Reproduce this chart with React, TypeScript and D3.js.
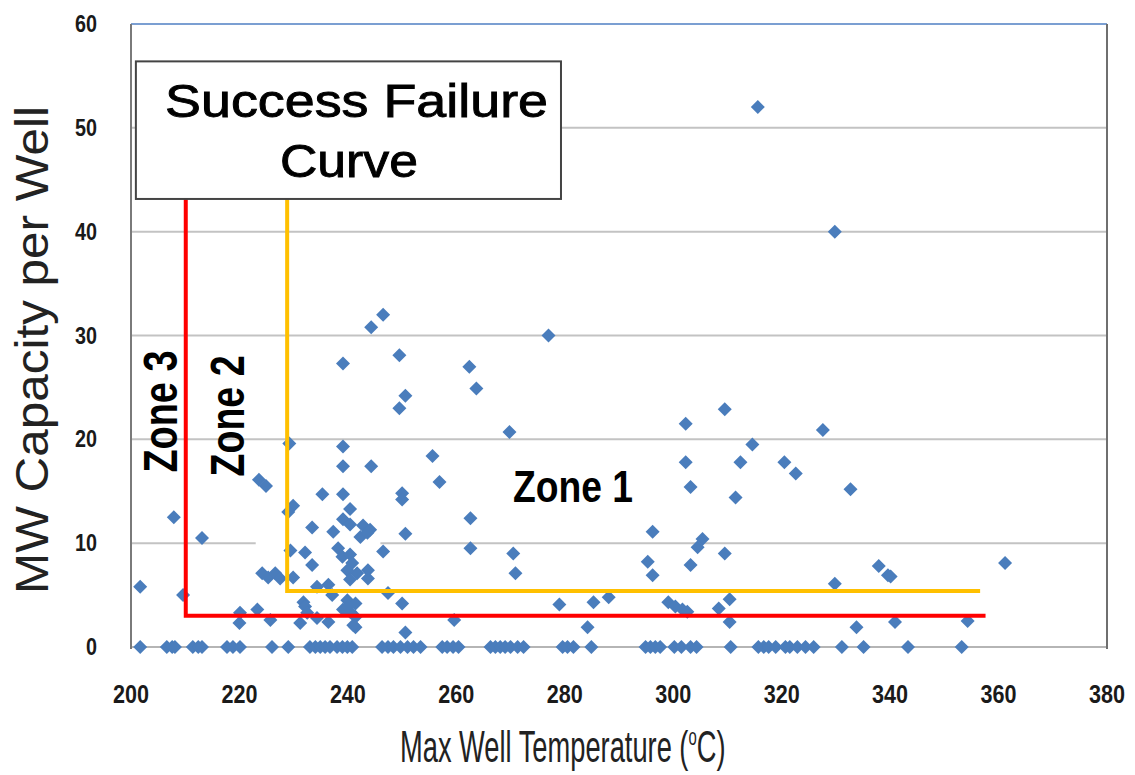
import React from "react";
import * as d3 from "d3";

// axis ticks
const xTicks = [200, 220, 240, 260, 280, 300, 320, 340, 360, 380];
const yTicks = [0, 10, 20, 30, 40, 50, 60];

// wells with capacity > 0 : [max temperature (C), MW per well]
const producingWells: [number, number][] = [
  [315.6, 52.0], [329.8, 40.0], [277.0, 30.0],
  [246.5, 32.0], [244.3, 30.8], [239.1, 27.3], [249.5, 28.1], [250.6, 24.2], [249.5, 23.0],
  [262.4, 27.0], [263.7, 24.9], [269.8, 20.7], [255.6, 18.4], [256.9, 15.9],
  [229.2, 19.6], [239.1, 19.3], [239.1, 17.4], [244.3, 17.4],
  [223.6, 16.1], [224.9, 15.5],
  [250.0, 14.8], [250.0, 14.2], [262.6, 12.4], [250.6, 10.9], [262.6, 9.5], [270.5, 9.0], [270.9, 7.1],
  [250.0, 4.2], [279.0, 4.1], [285.3, 4.3], [288.1, 4.8], [259.6, 2.6], [250.6, 1.4], [284.2, 1.9],
  [309.5, 22.9], [302.3, 21.5], [327.6, 20.9], [314.6, 19.5], [302.3, 17.8], [312.4, 17.8],
  [320.5, 17.8], [322.6, 16.7], [303.2, 15.4], [332.7, 15.2], [311.5, 14.4], [296.2, 11.1],
  [305.4, 10.4], [304.5, 9.6], [309.5, 9.0], [295.3, 8.2], [303.2, 7.9], [296.2, 6.9],
  [337.9, 7.8], [339.6, 6.9], [340.1, 6.8], [361.2, 8.1], [329.8, 6.1], [310.4, 4.6],
  [299.1, 4.3], [300.4, 3.9], [301.7, 3.6], [302.6, 3.4], [308.4, 3.7], [310.4, 2.4],
  [333.8, 1.9], [340.9, 2.4], [354.3, 2.5],
  [235.3, 14.7], [239.1, 14.7], [240.4, 13.3], [239.1, 12.3], [240.4, 11.8], [233.4, 11.5],
  [237.3, 11.1], [242.8, 11.7], [244.1, 11.3], [242.3, 10.6], [243.6, 11.0],
  [232.1, 9.1], [233.4, 7.9], [238.2, 9.5], [239.0, 8.7], [240.4, 8.9], [240.8, 8.1],
  [241.7, 7.1], [239.9, 7.4], [240.4, 6.5], [243.7, 6.6], [243.7, 7.4], [246.5, 9.2],
  [234.3, 5.8], [236.4, 6.0], [237.1, 5.0], [231.8, 4.3], [239.9, 4.5], [241.4, 4.2],
  [239.1, 3.6], [240.4, 3.4], [241.4, 1.9], [247.4, 5.2], [241.4, 2.9], [240.1, 3.9],
  [234.3, 2.8], [236.4, 2.4],
  [229.9, 13.6], [229.0, 13.0], [229.4, 9.3], [224.2, 7.1], [225.3, 6.7], [226.6, 7.1],
  [227.5, 6.6], [229.9, 6.7],
  [232.1, 3.9], [232.5, 3.3], [231.2, 2.3], [223.3, 3.6], [220.1, 3.3], [225.7, 2.6],
  [220.0, 2.3], [241.0, 2.1],
  [201.7, 5.8], [207.9, 12.5], [209.6, 5.0], [213.1, 10.5],
];

// wells with zero capacity (temperature only)
const dryWellTemps: number[] = [
  201.7, 206.6, 207.6, 208.1, 211.4, 212.4, 213.1, 217.7, 218.8, 220.1, 226.0, 229.0,
  233.0, 234.0, 234.9, 235.8, 236.7, 238.0, 239.0, 239.9, 240.8, 246.3, 247.4, 248.4,
  249.7, 251.0, 252.1, 253.4, 257.4, 258.3, 259.4, 260.4, 266.3, 267.2, 268.1, 269.0,
  270.0, 271.3, 272.4, 279.6, 280.5, 281.6, 284.9, 294.9, 295.8, 296.7, 297.6, 300.2,
  301.5, 303.2, 304.3, 310.6, 315.7, 316.7, 317.6, 318.9, 320.7, 321.5, 322.9, 324.4,
  325.9, 331.1, 335.1, 343.3, 353.2,
];

// success / failure curve corners (temp, MW)
const zone3Curve: [number, number][] = [[210.1, 43.2], [210.1, 3.0], [357.6, 3.0]];
const zone2Curve: [number, number][] = [[228.8, 43.2], [228.8, 5.4], [356.6, 5.4]];

const W = 1135;
const H = 775;
const font = "'Liberation Sans', Arial, sans-serif";

export default function App() {
  const x = d3.scaleLinear().domain([200, 380]).range([131, 1107]);
  const y = d3.scaleLinear().domain([0, 60]).range([647, 24]);

  const diamond = d3.symbol().type(d3.symbolSquare).size(98)();
  const line = d3.line<[number, number]>().x(d => x(d[0])).y(d => y(d[1]));

  const points: [number, number][] = [
    ...dryWellTemps.map(t => [t, 0] as [number, number]),
    ...producingWells,
  ];

  return (
    <svg width={W} height={H} style={{ position: "absolute", left: 0, top: 0, background: "#fff" }}>
      {/* gridlines */}
      {yTicks.filter(v => v > 0 && v < 60).map(v => (
        <line key={v} x1={x(200)} x2={x(380)} y1={y(v)} y2={y(v)} stroke="#c3c3c3" strokeWidth={2} />
      ))}
      <line x1={x(200)} x2={x(380)} y1={y(0)} y2={y(0)} stroke="#b5b5b5" strokeWidth={2} />
      <line x1={x(200)} x2={x(380)} y1={y(60)} y2={y(60)} stroke="#7b9fd2" strokeWidth={2} />
      {/* image clean-up patch over the 10 MW gridline */}
      <rect x={x(223)} y={y(10) - 3} width={x(246) - x(223)} height={6} fill="#fff" />
      {/* axes */}
      <line x1={x(200)} x2={x(200)} y1={y(60)} y2={y(0) + 2} stroke="#7a7a7a" strokeWidth={2} />
      <line x1={x(380)} x2={x(380)} y1={y(60)} y2={y(0) + 2} stroke="#6f6f6f" strokeWidth={2} />

      {/* points */}
      {points.map((p, i) => (
        <path key={i} d={diamond ?? ""} fill="#4a7dbc"
          transform={`translate(${x(p[0])},${y(p[1])}) rotate(45)`} />
      ))}

      {/* curves */}
      <path d={line(zone3Curve) ?? ""} fill="none" stroke="#ff0000" strokeWidth={4} />
      <path d={line(zone2Curve) ?? ""} fill="none" stroke="#ffc000" strokeWidth={4} />

      {/* title box */}
      <rect x={x(200.9)} y={y(56.4)} width={x(279.3) - x(200.9)} height={y(43.15) - y(56.4)}
        fill="#fff" stroke="#444" strokeWidth={2} />
      <text x={x(241.6)} y={y(51.0)} textAnchor="middle" fontFamily={font} fontSize={47}
        textLength={383} lengthAdjust="spacingAndGlyphs" stroke="#000" strokeWidth={0.9}>Success Failure</text>
      <text x={x(240.2)} y={y(45.3)} textAnchor="middle" fontFamily={font} fontSize={47}
        textLength={138} lengthAdjust="spacingAndGlyphs" stroke="#000" strokeWidth={0.9}>Curve</text>

      {/* zone labels */}
      <text x={x(270.45)} y={y(13.97)} fontFamily={font} fontSize={44} fontWeight="bold"
        textLength={120} lengthAdjust="spacingAndGlyphs">Zone 1</text>
      <text transform={`translate(${x(208.5)},${y(22.68)}) rotate(-90)`} textAnchor="middle"
        fontFamily={font} fontSize={48} fontWeight="bold" textLength={122} lengthAdjust="spacingAndGlyphs">Zone 3</text>
      <text transform={`translate(${x(220.8)},${y(22.25)}) rotate(-90)`} textAnchor="middle"
        fontFamily={font} fontSize={48} fontWeight="bold" textLength={121} lengthAdjust="spacingAndGlyphs">Zone 2</text>

      {/* tick labels */}
      {xTicks.map(t => (
        <text key={t} x={x(t)} y={703} textAnchor="middle" fontFamily={font} fontSize={25}
          fontWeight="bold" fill="#1a1a1a" textLength={36} lengthAdjust="spacingAndGlyphs">{t}</text>
      ))}
      {yTicks.map(v => (
        <text key={v} x={97} y={y(v) + 8} textAnchor="end" fontFamily={font} fontSize={23}
          fontWeight="bold" fill="#1a1a1a" textLength={v === 0 ? 11 : 22} lengthAdjust="spacingAndGlyphs">{v}</text>
      ))}

      {/* axis titles */}
      <g transform="translate(400,762) scale(0.62,1)">
        <text x={0} y={0} fontFamily={font} fontSize={44} fill="#222">
          Max Well Temperature (<tspan fontSize={24} dy={-17}>o</tspan><tspan dy={17}>C)</tspan>
        </text>
      </g>
      <text transform={`translate(48,350) rotate(-90)`} textAnchor="middle" fontFamily={font}
        fontSize={46} fill="#222" textLength={488} lengthAdjust="spacingAndGlyphs">MW Capacity per Well</text>
    </svg>
  );
}
